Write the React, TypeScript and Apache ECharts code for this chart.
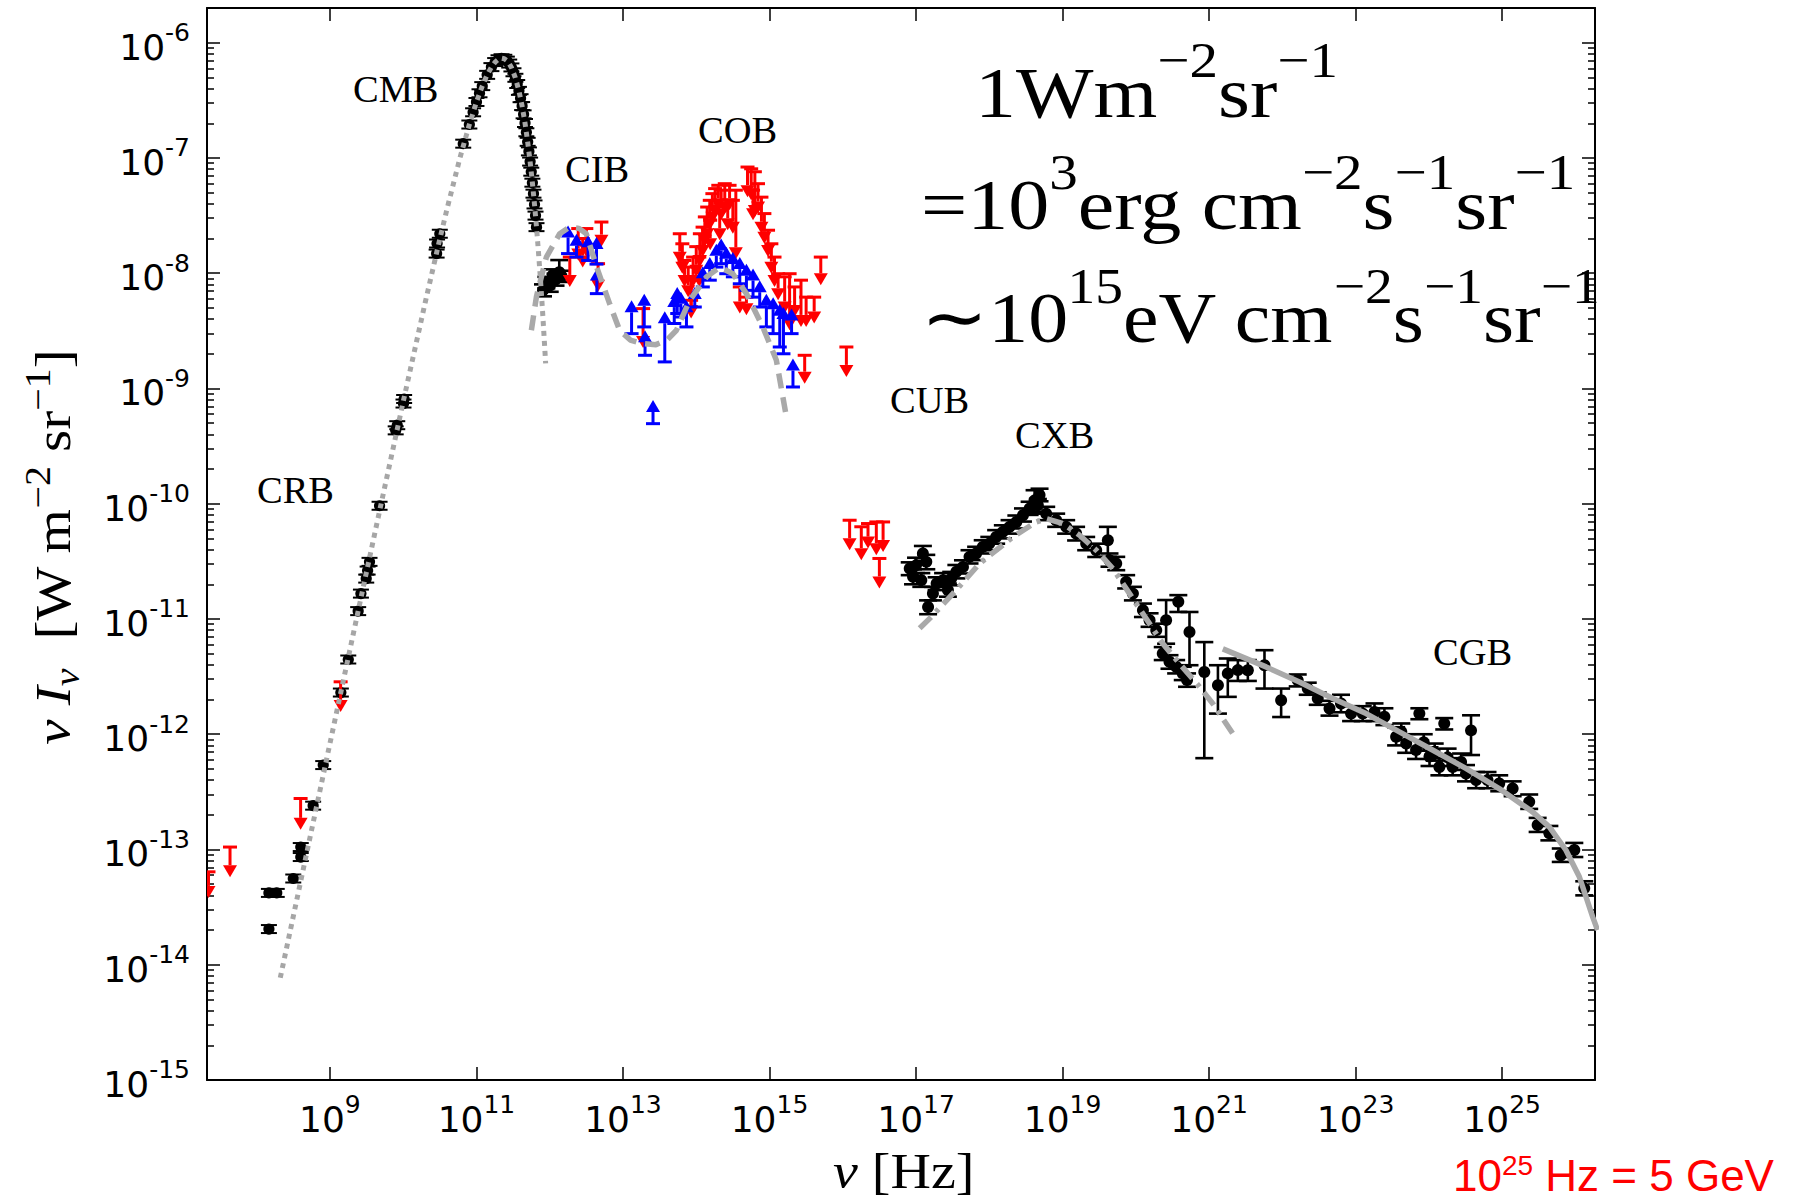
import React, { useEffect, useRef } from 'react';
import * as echarts from 'echarts';

// ---------------- axis ticks ----------------
const xTickValues = [1e9, 1e11, 1e13, 1e15, 1e17, 1e19, 1e21, 1e23, 1e25];
const yTickValues = [1e-15, 1e-14, 1e-13, 1e-12, 1e-11, 1e-10, 1e-9, 1e-8, 1e-7, 1e-6];
const yMinorTickValues: number[] = [];
for (let e = -15; e <= -7; e++) for (let k = 2; k <= 9; k++) yMinorTickValues.push(k * Math.pow(10, e));

const X_MIN = 2.1e7;
const X_MAX = 1.85e26;
const Y_MIN = 0.99999e-15;
const Y_MAX = 2e-6;

// ---------------- model curves [nu, nuI_nu] ----------------
const cmbModel = [
  [2.1e8, 7.7e-15], [5e8, 1.04e-13], [1e9, 8.3e-13], [3e9, 2.2e-11], [5e9, 1.0e-10], [1e10, 7.66e-10],
  [2e10, 5.59e-9], [3e10, 1.72e-8], [4e10, 3.69e-8], [6e10, 1.02e-7], [8e10, 1.95e-7], [1e11, 3.06e-7],
  [1.2e11, 4.2e-7], [1.4e11, 5.26e-7], [1.6e11, 6.14e-7], [1.8e11, 6.79e-7], [2e11, 7.18e-7], [2.2e11, 7.33e-7],
  [2.4e11, 7.25e-7], [2.6e11, 6.99e-7], [2.8e11, 6.59e-7], [3e11, 6.1e-7], [3.4e11, 4.96e-7], [3.8e11, 3.82e-7],
  [4.2e11, 2.82e-7], [4.6e11, 2.01e-7], [5e11, 1.38e-7], [5.4e11, 9.3e-8], [5.8e11, 6.1e-8], [6.2e11, 3.95e-8],
  [6.6e11, 2.51e-8], [7e11, 1.57e-8], [7.5e11, 8.6e-9], [8e11, 4.6e-9], [8.8e11, 1.65e-9],
];
const cibCobModel = [
  [5.62e11, 3.2e-9], [6.6e11, 6.3e-9], [9.0e11, 1.38e-8], [1.37e12, 2.2e-8], [1.86e12, 2.51e-8], [2.51e12, 2.45e-8],
  [3.16e12, 2.2e-8], [4.37e12, 1.13e-8], [6.6e12, 5.4e-9], [9.0e12, 3.2e-9], [1.26e13, 2.63e-9], [1.86e13, 2.45e-9],
  [2.82e13, 2.4e-9], [3.98e13, 2.63e-9], [5.37e13, 3.2e-9], [8.1e13, 5.8e-9], [1.38e14, 9.3e-9], [2.09e14, 1.13e-8],
  [3.16e14, 9.9e-9], [4.84e14, 6.65e-9], [8.1e14, 3.42e-9], [1.24e15, 1.76e-9], [1.7e15, 5.66e-10],
];
const cxbModel = [
  [1.12e17, 8.3e-12], [1.61e17, 1.04e-11], [3.19e17, 1.66e-11], [7.38e17, 3.03e-11], [2.1e18, 5.15e-11],
  [4.37e18, 6.95e-11], [5.98e18, 7.43e-11], [1.01e19, 6.73e-11], [1.71e19, 5.33e-11], [2.88e19, 3.95e-11],
  [4.85e19, 2.74e-11], [8.2e19, 1.66e-11], [1.38e20, 1.01e-11], [2.33e20, 6.12e-12], [3.94e20, 4.11e-12],
  [7.38e20, 2.58e-12], [1.12e21, 1.85e-12], [2.09e21, 1.02e-12],
];
const cgbModel = [
  [1.54e21, 5.5e-12], [6e21, 3.84e-12], [1.71e22, 2.84e-12], [4.9e22, 2.04e-12], [1.39e23, 1.51e-12],
  [3.96e23, 1.05e-12], [1.12e24, 7.3e-13], [3.2e24, 5.05e-13], [9.1e24, 3.38e-13], [2.6e25, 2.12e-13],
  [4.4e25, 1.57e-13], [7.4e25, 9.9e-14], [1.13e26, 5.8e-14], [1.72e26, 2.6e-14], [2.0e26, 2.0e-14],
];

// ---------------- measurements ----------------
// radio / CMB points [nu, value]
const radioCmbPoints = [
  [1.47e8, 2.04e-14], [1.47e8, 4.2e-14], [1.88e8, 4.2e-14], [3.16e8, 5.6e-14], [4.0e8, 8.6e-14], [4.0e8, 1.05e-13],
  [5.9e8, 2.4e-13], [8.1e8, 5.4e-13], [1.41e9, 2.3e-12], [1.78e9, 4.45e-12], [2.43e9, 1.17e-11], [2.65e9, 1.66e-11],
  [3.13e9, 2.24e-11], [3.27e9, 2.63e-11], [3.47e9, 3.13e-11], [4.76e9, 9.6e-11], [7.9e9, 4.33e-10], [8.3e9, 4.8e-10],
  [1.01e10, 7.4e-10], [1.03e10, 8.1e-10], [2.86e10, 1.48e-8], [2.9e10, 1.81e-8], [3.16e10, 2.2e-8], [6.6e10, 1.33e-7],
];
const firasPoints = [
  [8e10, 1.95e-7], [9e10, 2.49e-7], [1e11, 3.06e-7], [1.1e11, 3.64e-7], [1.2e11, 4.2e-7], [1.4e11, 5.26e-7],
  [1.6e11, 6.14e-7], [1.8e11, 6.79e-7], [2e11, 7.18e-7], [2.2e11, 7.33e-7], [2.4e11, 7.25e-7], [2.6e11, 6.99e-7],
  [2.8e11, 6.59e-7], [3e11, 6.1e-7], [3.2e11, 5.54e-7], [3.4e11, 4.96e-7], [3.6e11, 4.38e-7], [3.8e11, 3.82e-7],
  [4e11, 3.3e-7], [4.2e11, 2.82e-7], [4.4e11, 2.39e-7], [4.6e11, 2.01e-7], [4.8e11, 1.67e-7], [5e11, 1.38e-7],
  [5.2e11, 1.14e-7], [5.4e11, 9.3e-8], [5.6e11, 7.6e-8], [5.8e11, 6.1e-8], [6e11, 4.9e-8], [6.2e11, 3.95e-8],
  [6.4e11, 3.16e-8], [6.6e11, 2.51e-8],
];
// [nu, value, low, high]
const blackErrPoints = [
  [8.1e11, 7.1e-9, 6.3e-9, 8.0e-9], [9.0e11, 8.3e-9, 7.4e-9, 9.3e-9], [1.0e12, 7.8e-9, 6.9e-9, 8.8e-9],
  [1.1e12, 9.6e-9, 8.5e-9, 1.08e-8], [1.2e12, 8.8e-9, 7.8e-9, 9.9e-9], [1.35e12, 1.02e-8, 8.9e-9, 1.3e-8],
  [1.45e12, 9.4e-9, 8.4e-9, 1.05e-8],
  [8.2e16, 2.74e-11, 2.4e-11, 3.1e-11], [9.1e16, 2.32e-11, 2.0e-11, 2.7e-11], [1.0e17, 2.92e-11, 2.5e-11, 3.4e-11],
  [1.18e17, 2.17e-11, 1.9e-11, 2.5e-11], [1.24e17, 3.7e-11, 3.2e-11, 4.3e-11], [1.38e17, 3.13e-11, 2.7e-11, 3.6e-11],
  [1.46e17, 1.27e-11, 1.1e-11, 1.45e-11], [1.7e17, 1.66e-11, 1.45e-11, 1.9e-11], [1.91e17, 2.03e-11, 1.78e-11, 2.3e-11],
  [2.34e17, 2.17e-11, 1.9e-11, 2.5e-11], [2.72e17, 1.78e-11, 1.56e-11, 2.03e-11], [3.02e17, 2.24e-11, 1.96e-11, 2.56e-11],
  [3.55e17, 2.57e-11, 2.25e-11, 2.94e-11], [4.37e17, 2.83e-11, 2.48e-11, 3.23e-11], [5.37e17, 3.46e-11, 3.03e-11, 3.95e-11],
  [6.61e17, 3.7e-11, 3.24e-11, 4.23e-11], [8.13e17, 4.22e-11, 3.7e-11, 4.82e-11], [1.0e18, 4.51e-11, 3.95e-11, 5.15e-11],
  [1.24e18, 5.15e-11, 4.5e-11, 5.9e-11], [1.53e18, 5.7e-11, 5.0e-11, 6.5e-11], [1.89e18, 6.3e-11, 5.5e-11, 7.2e-11],
  [2.34e18, 6.95e-11, 6.1e-11, 7.9e-11], [2.88e18, 7.94e-11, 7.0e-11, 9.1e-11], [3.55e18, 9.08e-11, 8.0e-11, 1.04e-10],
  [4.15e18, 1.07e-10, 8.2e-11, 1.31e-10], [4.85e18, 1.19e-10, 1.05e-10, 1.35e-10], [4.6e18, 9.7e-11, 8.5e-11, 1.1e-10],
  [5.98e18, 8.2e-11, 7.2e-11, 9.4e-11], [8.18e18, 7.19e-11, 6.3e-11, 8.2e-11], [1.12e19, 6.3e-11, 5.5e-11, 7.2e-11],
  [1.53e19, 5.51e-11, 4.8e-11, 6.3e-11], [2.1e19, 4.51e-11, 3.95e-11, 5.15e-11], [2.88e19, 3.95e-11, 3.45e-11, 4.5e-11],
  [4.15e19, 4.82e-11, 3.46e-11, 6.3e-11], [4.37e19, 3.24e-11, 2.84e-11, 3.7e-11], [5.4e19, 3.03e-11, 2.65e-11, 3.46e-11],
  [7.38e19, 2.1e-11, 1.84e-11, 2.4e-11], [9.12e19, 1.66e-11, 1.45e-11, 1.9e-11], [1.25e20, 1.19e-11, 1.04e-11, 1.36e-11],
  [1.54e20, 9.77e-12, 8.55e-12, 1.12e-11], [1.9e20, 8.0e-12, 7.0e-12, 9.1e-12], [2.59e20, 9.77e-12, 6.1e-12, 1.46e-11],
  [3.8e20, 1.41e-11, 1.15e-11, 1.61e-11], [2.33e20, 5.01e-12, 4.4e-12, 5.7e-12], [2.88e20, 4.25e-12, 3.7e-12, 4.85e-12],
  [3.55e20, 3.85e-12, 3.37e-12, 4.4e-12], [4.37e20, 3.37e-12, 2.95e-12, 3.85e-12], [5.4e20, 7.7e-12, 3.97e-12, 1.15e-11],
  [5.0e20, 2.95e-12, 2.58e-12, 3.37e-12], [8.6e20, 3.47e-12, 6.2e-13, 6.3e-12], [1.32e21, 2.66e-12, 1.51e-12, 3.97e-12],
  [1.8e21, 3.37e-12, 2.11e-12, 4.54e-12], [2.47e21, 3.6e-12, 2.9e-12, 4.4e-12], [3.38e21, 3.59e-12, 2.9e-12, 4.4e-12],
  [5.7e21, 3.97e-12, 2.49e-12, 5.36e-12], [9.62e21, 1.97e-12, 1.41e-12, 2.49e-12], [1.62e22, 2.94e-12, 2.6e-12, 3.3e-12],
  [2.22e22, 2.49e-12, 2.2e-12, 2.8e-12], [3.04e22, 2.04e-12, 1.8e-12, 2.3e-12], [4.4e22, 1.67e-12, 1.45e-12, 1.95e-12],
  [6.31e22, 1.85e-12, 1.55e-12, 2.2e-12], [8.67e22, 1.51e-12, 1.3e-12, 1.75e-12], [1.25e23, 1.51e-12, 1.3e-12, 1.75e-12],
  [1.81e23, 1.56e-12, 1.3e-12, 1.85e-12], [2.47e23, 1.42e-12, 1.2e-12, 1.68e-12], [3.57e23, 9.5e-13, 8.0e-13, 1.15e-12],
  [4.2e23, 1.05e-12, 8.9e-13, 1.24e-12], [4.9e23, 8.3e-13, 6.9e-13, 1.0e-12], [7.41e23, 1.51e-12, 1.35e-12, 1.68e-12],
  [6.68e23, 7.3e-13, 6.1e-13, 8.8e-13], [8.5e23, 8.5e-13, 7.2e-13, 1.0e-12], [1.02e24, 6.4e-13, 5.3e-13, 7.7e-13],
  [1.2e24, 7.0e-13, 5.9e-13, 8.3e-13], [1.62e24, 1.24e-12, 1.1e-12, 1.38e-12], [1.39e24, 5.2e-13, 4.4e-13, 6.2e-13],
  [1.8e24, 6.3e-13, 5.3e-13, 7.5e-13], [2.11e24, 5.2e-13, 4.4e-13, 6.2e-13], [2.75e24, 5.75e-13, 4.9e-13, 6.8e-13],
  [3.76e24, 1.08e-12, 6.6e-13, 1.46e-12], [3.21e24, 4.56e-13, 3.9e-13, 5.4e-13], [4.41e24, 4.0e-13, 3.4e-13, 4.7e-13],
  [6.31e24, 4.0e-13, 3.4e-13, 4.7e-13], [9.12e24, 3.74e-13, 3.2e-13, 4.4e-13], [1.39e25, 3.38e-13, 2.9e-13, 3.9e-13],
  [2.34e25, 2.59e-13, 2.25e-13, 3.0e-13], [3.05e25, 1.63e-13, 1.42e-13, 1.88e-13], [4.41e25, 1.38e-13, 1.2e-13, 1.6e-13],
  [6.31e25, 8.9e-14, 7.8e-14, 1.02e-13], [9.66e25, 9.9e-14, 8.6e-14, 1.14e-13], [1.32e26, 4.6e-14, 4.0e-14, 5.3e-14],
];
// upper limits [nu, limit (cap), arrow tip]
const upperLimits = [
  [2.2e7, 6.4e-14, 3.8e-14], [4.33e7, 1.05e-13, 5.75e-14], [3.98e8, 2.77e-13, 1.48e-13], [1.4e9, 2.85e-12, 1.56e-12],
  [1.88e12, 1.38e-8, 7.6e-9], [2.45e12, 2.44e-8, 1.29e-8], [2.82e12, 2.0e-8, 1.12e-8], [3.16e12, 2.44e-8, 1.38e-8],
  [5.08e12, 2.78e-8, 1.7e-8], [4.57e12, 1.21e-8, 6.9e-9],
  [1.88e13, 4.93e-9, 2.24e-9],
  [5.96e13, 2.2e-8, 1.21e-8], [6.46e13, 1.8e-8, 9.9e-9], [6.92e13, 1.29e-8, 7.6e-9], [7.76e13, 1.13e-8, 6.2e-9],
  [8.51e13, 8.7e-9, 4.17e-9], [9.06e13, 1.38e-8, 7.6e-9], [1.0e14, 1.7e-8, 9.3e-9], [1.12e14, 2.2e-8, 1.13e-8],
  [1.22e14, 2.51e-8, 1.38e-8], [1.31e14, 3.08e-8, 1.7e-8], [1.41e14, 3.75e-8, 1.93e-8], [1.53e14, 4.29e-8, 2.36e-8],
  [1.66e14, 4.9e-8, 2.69e-8], [1.81e14, 5.42e-8, 3.08e-8], [2.0e14, 5.79e-8, 3.52e-8], [2.19e14, 5.25e-8, 2.88e-8],
  [2.45e14, 5.98e-8, 3.29e-8], [2.85e14, 5.79e-8, 3.52e-8], [3.16e14, 4.29e-8, 2.2e-8], [3.47e14, 5.25e-8, 1.32e-8],
  [5.01e14, 8.34e-8, 4.57e-8], [5.62e14, 8.05e-8, 4.29e-8], [6.31e14, 7.59e-8, 3.08e-8], [6.97e14, 5.98e-8, 3.29e-8],
  [7.76e14, 4.57e-8, 2.2e-8], [8.51e14, 3.29e-8, 1.8e-8], [9.55e14, 2.36e-8, 1.38e-8], [1.06e15, 1.8e-8, 9.9e-9],
  [1.17e15, 1.38e-8, 7.6e-9], [1.31e15, 9.9e-9, 5.82e-9], [1.61e15, 9.3e-9, 4.47e-9], [1.88e15, 9.9e-9, 3.2e-9],
  [2.2e15, 7.6e-9, 4.17e-9], [2.69e15, 8.7e-9, 3.42e-9], [3.16e15, 6.2e-9, 3.42e-9], [4.07e15, 6.2e-9, 3.66e-9],
  [5.01e15, 1.38e-8, 7.85e-9], [3.02e15, 1.94e-9, 1.1e-9], [1.12e16, 2.29e-9, 1.26e-9], [4.84e14, 6.2e-9, 4.32e-9],
  [3.93e14, 7.6e-9, 4.47e-9], [8.51e13, 5.82e-9, 4.04e-9], [1.1e14, 1.38e-8, 7.6e-9], [1.55e14, 2.88e-8, 1.58e-8],
  [2.09e14, 3.52e-8, 1.93e-8], [2.69e14, 4.29e-8, 2.36e-8], [5.96e14, 5.25e-8, 2.88e-8],
  [1.24e16, 7.19e-11, 3.95e-11], [1.79e16, 6.31e-11, 3.24e-11], [2.21e16, 6.73e-11, 4.08e-11],
  [2.87e16, 6.95e-11, 3.57e-11], [3.55e16, 6.95e-11, 3.82e-11], [3.16e16, 3.35e-11, 1.84e-11],
];
// lower limits [nu, limit (cap), arrow head]
const lowerLimits = [
  [1.78e12, 1.48e-8, 2.6e-8], [2.32e12, 1.38e-8, 2.2e-8], [3.34e12, 1.29e-8, 2.14e-8], [4.35e12, 1.2e-8, 2.06e-8],
  [4.4e12, 6.65e-9, 1.1e-8],
  [1.31e13, 2.99e-9, 5.82e-9], [1.95e13, 3.42e-9, 6.65e-9], [2.0e13, 1.94e-9, 3.2e-9], [2.57e13, 4.95e-10, 7.94e-10],
  [3.72e13, 1.7e-9, 4.68e-9], [5.01e13, 3.66e-9, 6.46e-9], [5.5e13, 4.47e-9, 7.6e-9], [6.17e13, 4.17e-9, 6.92e-9],
  [7.35e13, 3.42e-9, 5.82e-9], [9.55e13, 5.09e-9, 7.6e-9], [1.23e14, 7.6e-9, 1.15e-8], [1.53e14, 8.7e-9, 1.38e-8],
  [1.88e14, 1.13e-8, 1.8e-8], [2.19e14, 1.21e-8, 2.0e-8], [2.57e14, 9.9e-9, 1.7e-8], [3.16e14, 9.3e-9, 1.53e-8],
  [3.93e14, 8.1e-9, 1.38e-8], [4.84e14, 7.1e-9, 1.21e-8], [5.96e14, 6.2e-9, 1.1e-8], [7.35e14, 5.09e-9, 8.7e-9],
  [9.06e14, 3.42e-9, 6.65e-9], [1.12e15, 2.99e-9, 6.2e-9], [1.38e15, 2.29e-9, 5.44e-9], [1.55e15, 2.0e-9, 5.09e-9],
  [2.0e15, 2.99e-9, 4.93e-9], [2.09e15, 1.03e-9, 1.82e-9],
];

// ---------------- helpers ----------------
const powLabel = (v: number) => `{b|10}{s|${Math.round(Math.log10(v))}}`;
const tickRich = {
  b: { fontFamily: 'DejaVu Sans', fontSize: 36, lineHeight: 45, verticalAlign: 'bottom', color: '#000' },
  s: { fontFamily: 'DejaVu Sans', fontSize: 25, lineHeight: 14, verticalAlign: 'top', color: '#000' },
};

function ladderItem(_p: any, api: any) {
  const c = api.coord([api.value(0), api.value(1)]);
  const s = { stroke: '#000', lineWidth: 2 };
  return {
    type: 'group',
    children: [
      { type: 'circle', shape: { cx: c[0], cy: c[1], r: 5.6 }, style: { fill: '#000' } },
      { type: 'line', shape: { x1: c[0] - 8, y1: c[1] - 4, x2: c[0] + 8, y2: c[1] - 4 }, style: s },
      { type: 'line', shape: { x1: c[0] - 8, y1: c[1] + 4, x2: c[0] + 8, y2: c[1] + 4 }, style: s },
    ],
  };
}

function errItem(_p: any, api: any) {
  const nu = api.value(0);
  const c = api.coord([nu, api.value(1)]);
  const lo = api.coord([nu, api.value(2)]);
  const hi = api.coord([nu, api.value(3)]);
  const s = { stroke: '#000', lineWidth: 2.6 };
  const w = 9;
  return {
    type: 'group',
    children: [
      { type: 'line', shape: { x1: c[0], y1: hi[1], x2: c[0], y2: lo[1] }, style: s },
      { type: 'line', shape: { x1: c[0] - w, y1: hi[1], x2: c[0] + w, y2: hi[1] }, style: s },
      { type: 'line', shape: { x1: c[0] - w, y1: lo[1], x2: c[0] + w, y2: lo[1] }, style: s },
      { type: 'circle', shape: { cx: c[0], cy: c[1], r: 6 }, style: { fill: '#000' } },
    ],
  };
}

function arrowItem(color: string, up: boolean) {
  return (_p: any, api: any) => {
    const nu = api.value(0);
    const cap = api.coord([nu, api.value(1)]);
    const tip = api.coord([nu, api.value(2)]);
    const x = cap[0];
    const s = { stroke: color, lineWidth: 3 };
    const hh = 12, hw = 7;
    const base = up ? tip[1] + hh : tip[1] - hh;
    return {
      type: 'group',
      children: [
        { type: 'line', shape: { x1: x - 7, y1: cap[1], x2: x + 7, y2: cap[1] }, style: s },
        { type: 'line', shape: { x1: x, y1: cap[1], x2: x, y2: base }, style: s },
        { type: 'polygon', shape: { points: [[x - hw, base], [x + hw, base], [x, tip[1]]] }, style: { fill: color } },
      ],
    };
  };
}

const majorTick = (vals: number[], len: number) => ({
  show: true, inside: true, length: len, lineStyle: { color: '#000', width: 1.5 }, customValues: vals,
});

function axis(extra: any) {
  return {
    type: 'log',
    logBase: 10,
    axisLine: { show: true, onZero: false, lineStyle: { color: '#000', width: 2 } },
    splitLine: { show: false },
    minorTick: { show: false },
    minorSplitLine: { show: false },
    ...extra,
  };
}

const serif = '"Liberation Serif", "Times New Roman", serif';

function buildOption(): any {
  const bandLabel = (text: string, x: number, y: number) => ({
    type: 'text', x, y, scaleX: 1.04, z: 50,
    style: { text, fontFamily: serif, fontSize: 37, fill: '#000', align: 'left', verticalAlign: 'middle' },
  });
  const eqRich = {
    b: { fontFamily: serif, fontSize: 72, lineHeight: 93, verticalAlign: 'bottom', color: '#000' },
    s: { fontFamily: serif, fontSize: 50, lineHeight: 38, verticalAlign: 'top', color: '#000' },
  };
  const eq = (text: string, x: number, y: number, sx: number) => ({
    type: 'text', x, y, scaleX: sx, z: 50,
    style: { text, rich: eqRich, align: 'left', verticalAlign: 'middle', fill: '#000' },
  });
  const labRich = {
    i: { fontFamily: serif, fontStyle: 'italic', fontSize: 50, lineHeight: 64, verticalAlign: 'middle', color: '#000' },
    r: { fontFamily: serif, fontSize: 50, lineHeight: 64, verticalAlign: 'middle', color: '#000' },
    sup: { fontFamily: serif, fontSize: 35, lineHeight: 35, verticalAlign: 'top', color: '#000' },
    sub: { fontFamily: serif, fontStyle: 'italic', fontSize: 35, lineHeight: 35, verticalAlign: 'bottom', color: '#000' },
  };
  const xlabRich = {
    i: { fontFamily: serif, fontStyle: 'italic', fontSize: 50, lineHeight: 50, color: '#000' },
    r: { fontFamily: serif, fontSize: 50, lineHeight: 50, color: '#000' },
  };

  return {
    animation: false,
    backgroundColor: '#fff',
    grid: { left: 207, top: 8, width: 1388, height: 1072, show: false },
    xAxis: [
      axis({
        position: 'bottom', min: X_MIN, max: X_MAX,
        axisTick: majorTick(xTickValues, 13),
        axisLabel: { show: true, margin: 12, customValues: xTickValues, formatter: powLabel, rich: tickRich },
      }),
      axis({
        position: 'top', min: X_MIN, max: X_MAX,
        axisTick: majorTick(xTickValues, 13),
        axisLabel: { show: false },
      }),
    ],
    yAxis: [
      axis({
        position: 'left', min: Y_MIN, max: Y_MAX,
        axisTick: majorTick(yTickValues, 13),
        axisLabel: { show: true, margin: 17, customValues: yTickValues, formatter: powLabel, rich: tickRich },
      }),
      axis({
        position: 'left', min: Y_MIN, max: Y_MAX, axisLine: { show: false },
        axisTick: majorTick(yMinorTickValues, 7), axisLabel: { show: false },
      }),
      axis({
        position: 'right', min: Y_MIN, max: Y_MAX,
        axisTick: majorTick(yTickValues, 13), axisLabel: { show: false },
      }),
      axis({
        position: 'right', min: Y_MIN, max: Y_MAX, axisLine: { show: false },
        axisTick: majorTick(yMinorTickValues, 7), axisLabel: { show: false },
      }),
    ],
    series: [
      { type: 'custom', name: 'radio-cmb', data: radioCmbPoints, renderItem: ladderItem, clip: true, silent: true, z: 3 },
      { type: 'custom', name: 'firas', data: firasPoints, renderItem: ladderItem, clip: true, silent: true, z: 3 },
      { type: 'custom', name: 'black', data: blackErrPoints, renderItem: errItem, clip: true, silent: true, z: 3 },
      { type: 'custom', name: 'upper', data: upperLimits, renderItem: arrowItem('#ff0000', false), clip: true, silent: true, z: 3 },
      { type: 'custom', name: 'lower', data: lowerLimits, renderItem: arrowItem('#0000ff', true), clip: true, silent: true, z: 3 },
      {
        type: 'line', name: 'cmb-model', data: cmbModel, showSymbol: false, symbol: 'none', silent: true, z: 6, clip: true,
        lineStyle: { color: '#a6a6a6', width: 5, type: [5, 5], cap: 'butt' },
      },
      {
        type: 'line', name: 'cib-cob-model', data: cibCobModel, showSymbol: false, symbol: 'none', silent: true, z: 6, clip: true,
        lineStyle: { color: '#a9a9a9', width: 5.5, type: [15, 9], cap: 'butt' },
      },
      {
        type: 'line', name: 'cxb-model', data: cxbModel, showSymbol: false, symbol: 'none', silent: true, z: 6, clip: true,
        lineStyle: { color: '#a9a9a9', width: 5.5, type: [16, 7, 4, 7], cap: 'butt' },
      },
      {
        type: 'line', name: 'cgb-model', data: cgbModel, showSymbol: false, symbol: 'none', silent: true, z: 6, clip: true,
        lineStyle: { color: '#a9a9a9', width: 5.5 },
      },
    ],
    graphic: [
      bandLabel('CMB', 353, 89.5),
      bandLabel('CIB', 565, 169.5),
      bandLabel('COB', 698, 130.5),
      bandLabel('CUB', 890, 400.5),
      bandLabel('CXB', 1015, 435.5),
      bandLabel('CGB', 1433, 652.5),
      bandLabel('CRB', 257, 490.5),
      eq('{b|1Wm}{s|−2}{b|sr}{s|−1}', 975, 82, 1.14),
      eq('{b|=10}{s|3}{b|erg cm}{s|−2}{b|s}{s|−1}{b|sr}{s|−1}', 921, 194, 1.14),
      eq('{b|∼10}{s|15}{b|eV cm}{s|−2}{b|s}{s|−1}{b|sr}{s|−1}', 921, 307, 1.11),
      {
        type: 'text', x: 53, y: 547, rotation: Math.PI / 2, scaleX: 1.14, z: 50,
        style: {
          text: '{i|ν I}{sub|ν}{r|  [W m}{sup|−2}{r| sr}{sup|−1}{r|]}',
          rich: labRich, align: 'center', verticalAlign: 'middle', fill: '#000',
        },
      },
      {
        type: 'text', x: 833, y: 1171, scaleX: 1.12, z: 50,
        style: { text: '{i|ν}{r| [Hz]}', rich: xlabRich, align: 'left', verticalAlign: 'middle', fill: '#000' },
      },
      {
        type: 'text', x: 1453, y: 1174, z: 50,
        style: {
          text: '{b|10}{s|25}{b| Hz = 5 GeV}',
          rich: {
            b: { fontFamily: '"Liberation Sans", Arial, sans-serif', fontSize: 44, lineHeight: 46, verticalAlign: 'bottom', color: '#ff0000' },
            s: { fontFamily: '"Liberation Sans", Arial, sans-serif', fontSize: 28, lineHeight: 22, verticalAlign: 'top', color: '#ff0000' },
          },
          align: 'left', verticalAlign: 'middle', fill: '#ff0000',
        },
      },
    ],
  };
}

export default function App() {
  const ref = useRef<HTMLDivElement>(null);
  useEffect(() => {
    if (!ref.current) return;
    const chart = echarts.init(ref.current, null, { renderer: 'svg' });
    chart.setOption(buildOption());
    return () => chart.dispose();
  }, []);
  return (
    <div
      ref={ref}
      style={{ position: 'fixed', left: 0, top: 0, width: 1794, height: 1203, background: '#fff' }}
    />
  );
}
